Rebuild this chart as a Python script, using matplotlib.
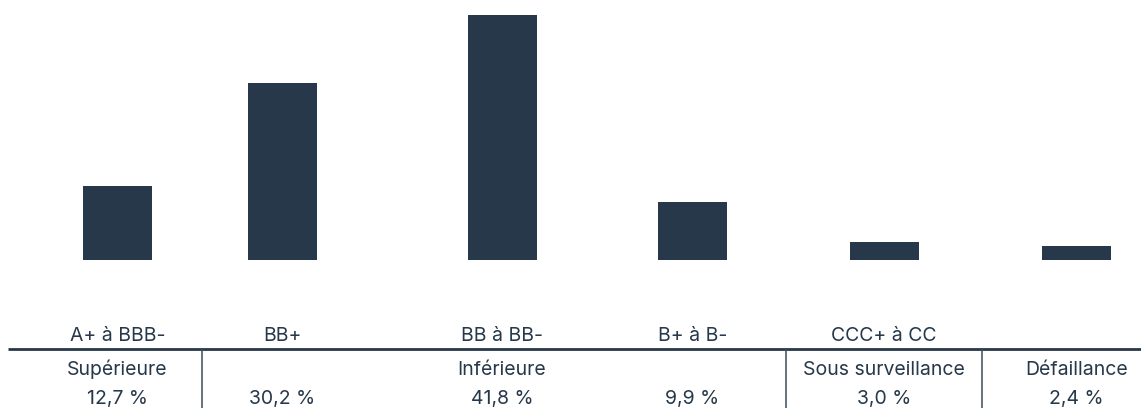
import matplotlib
matplotlib.use("Agg")
import matplotlib.pyplot as plt

# ---- data ----
ratings = ["A+ à BBB-", "BB+", "BB à BB-", "B+ à B-", "CCC+ à CC", ""]
shares = [12.7, 30.2, 41.8, 9.9, 3.0, 2.4]
groups = ["Supérieure", "Inférieure", "Sous surveillance", "Défaillance"]
group_anchor = [0, 2, 4, 5]   # bar index under which each group label sits

# ---- layout (pixels) ----
W, H = 1141, 408
bar_centers = [117.5, 282, 502, 692.5, 884, 1076.5]
bar_width = 69
base_y, top_y = 260, 15
dividers = [202, 786, 981.5]
line_y = 349
row_label_base, row_group_base, row_pct_base = 341, 375, 404

color = "#263849"
plt.rcParams["font.family"] = ["Inter", "DejaVu Sans"]

fig = plt.figure(figsize=(W / 100, H / 100), dpi=100)

ax = fig.add_axes([0, (H - base_y) / H, 1, (base_y - top_y) / H])
ax.bar(bar_centers, shares, width=bar_width, color=color)
ax.set_xlim(0, W)
ax.set_ylim(0, max(shares))
ax.axis("off")

tab = fig.add_axes([0, 0, 1, 1], facecolor="none")
tab.set_xlim(0, W)
tab.set_ylim(H, 0)
tab.axis("off")

tab.plot([8, W], [line_y, line_y], color=color, lw=2.0, solid_capstyle="butt")
for d in dividers:
    tab.plot([d, d], [line_y, H], color="#3b4b5b", lw=1.1, solid_capstyle="butt")

fs = 14
for x, lab in zip(bar_centers, ratings):
    if lab:
        tab.text(x, row_label_base, lab, ha="center", va="baseline", fontsize=fs, color=color)
for g, i in zip(groups, group_anchor):
    tab.text(bar_centers[i], row_group_base, g, ha="center", va="baseline", fontsize=fs, color=color)
for x, v in zip(bar_centers, shares):
    tab.text(x, row_pct_base, f"{v:.1f}".replace(".", ",") + " %", ha="center", va="baseline",
             fontsize=fs, color=color)

fig.savefig("out.png", dpi=100)
